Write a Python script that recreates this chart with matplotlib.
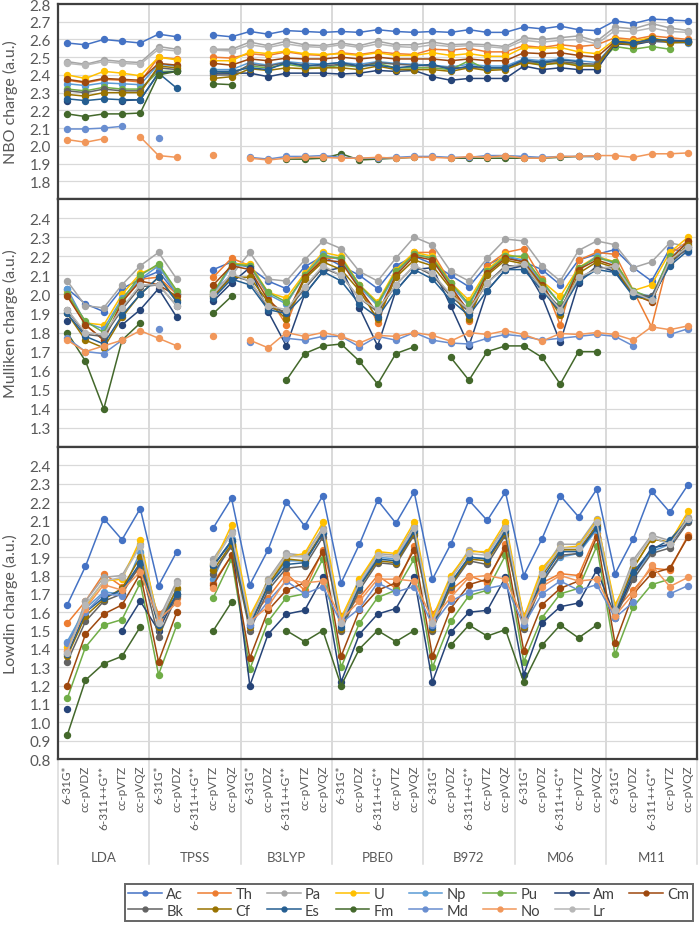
import matplotlib
matplotlib.use('Agg')
import matplotlib.pyplot as plt
import matplotlib.transforms as mtransforms
from matplotlib.lines import Line2D
import numpy as np

nan = np.nan

plt.rcParams['font.family'] = ['Lato', 'DejaVu Sans']

functionals = ['LDA', 'TPSS', 'B3LYP', 'PBE0', 'B972', 'M06', 'M11']
basis_sets = ['6-31G*', 'cc-pVDZ', '6-311++G**', 'cc-pVTZ', 'cc-pVQZ']
elements = ['Ac', 'Th', 'Pa', 'U', 'Np', 'Pu', 'Am', 'Cm',
            'Bk', 'Cf', 'Es', 'Fm', 'Md', 'No', 'Lr']
colors = ['#4472C4', '#ED7D31', '#A5A5A5', '#FFC000', '#5B9BD5', '#70AD47', '#264478', '#9E480E',
          '#636363', '#997300', '#255E91', '#43682B', '#698ED0', '#F1975A', '#B7B7B7']

# ---------------- NBO charge ----------------
nbo_ac = [2.58, 2.57, 2.60, 2.59, 2.58, 2.63, 2.615, nan, 2.625, 2.615, 2.645, 2.63, 2.65, 2.645, 2.64, 2.645, 2.64, 2.655, 2.645, 2.64, 2.645, 2.64, 2.655, 2.64, 2.64, 2.67, 2.66, 2.675, 2.655, 2.65, 2.705, 2.69, 2.715, 2.71, 2.705]
nbo_th = [2.37, 2.355, 2.375, 2.37, 2.36, 2.50, 2.49, nan, 2.50, 2.495, 2.52, 2.51, 2.53, 2.515, 2.51, 2.525, 2.515, 2.53, 2.52, 2.515, 2.545, 2.54, 2.55, 2.53, 2.53, 2.565, 2.555, 2.57, 2.56, 2.57, 2.61, 2.60, 2.62, 2.61, 2.60]
nbo_pa = [2.475, 2.46, 2.485, 2.475, 2.47, 2.56, 2.545, nan, 2.545, 2.545, 2.585, 2.565, 2.59, 2.57, 2.565, 2.58, 2.565, 2.59, 2.57, 2.57, 2.585, 2.57, 2.575, 2.57, 2.56, 2.61, 2.60, 2.61, 2.62, 2.59, 2.67, 2.66, 2.69, 2.665, 2.65]
nbo_u = [2.40, 2.38, 2.42, 2.41, 2.395, 2.50, 2.485, nan, 2.48, 2.48, 2.53, 2.52, 2.535, 2.52, 2.515, 2.52, 2.51, 2.525, 2.51, 2.51, 2.525, 2.51, 2.52, 2.505, 2.505, 2.555, 2.55, 2.555, 2.53, 2.52, 2.60, 2.59, 2.61, 2.59, 2.59]
nbo_np = [2.35, 2.34, 2.355, 2.35, 2.345, 2.46, 2.45, nan, 2.43, 2.43, 2.47, 2.455, 2.475, 2.465, 2.46, 2.47, 2.46, 2.475, 2.465, 2.46, 2.455, 2.445, 2.46, 2.45, 2.45, 2.49, 2.48, 2.49, 2.48, 2.47, 2.58, 2.575, 2.59, 2.585, 2.58]
nbo_pu = [2.32, 2.31, 2.33, 2.32, 2.32, 2.42, 2.42, nan, 2.42, 2.41, 2.45, 2.44, 2.46, 2.445, 2.44, 2.455, 2.445, 2.465, 2.44, 2.44, 2.44, 2.43, 2.48, 2.43, 2.44, 2.47, 2.46, 2.465, 2.46, 2.45, 2.56, 2.545, 2.56, 2.545, nan]
nbo_am = [2.25, nan, nan, 2.255, 2.26, 2.41, 2.42, nan, 2.41, 2.41, 2.41, 2.39, 2.41, 2.41, 2.41, 2.405, 2.41, 2.425, 2.42, 2.425, 2.39, 2.37, 2.38, 2.38, 2.38, 2.45, 2.43, 2.44, 2.43, 2.43, 2.575, 2.57, 2.59, 2.595, 2.59]
nbo_cm = [2.375, 2.36, 2.38, 2.375, 2.37, 2.465, 2.455, nan, 2.465, 2.455, 2.49, 2.48, 2.495, 2.49, 2.49, 2.50, 2.49, 2.50, 2.49, 2.49, 2.49, 2.48, 2.49, 2.48, 2.48, 2.525, 2.52, 2.525, 2.51, 2.50, 2.59, 2.58, 2.60, 2.59, 2.585]
nbo_bk = [2.31, 2.30, 2.32, 2.31, 2.31, 2.44, 2.43, nan, 2.40, 2.40, 2.46, 2.45, 2.47, 2.455, 2.45, 2.46, 2.45, 2.47, 2.46, 2.455, 2.45, 2.44, 2.44, 2.44, 2.44, 2.475, 2.47, 2.475, 2.465, 2.46, 2.585, 2.58, 2.59, 2.585, 2.585]
nbo_cf = [2.29, 2.28, 2.30, 2.30, 2.30, 2.45, 2.44, nan, 2.38, 2.39, 2.435, 2.425, 2.44, 2.435, 2.44, 2.44, 2.43, 2.45, 2.43, 2.43, 2.43, 2.42, 2.44, 2.425, 2.43, 2.47, 2.455, 2.47, 2.45, 2.45, 2.58, 2.57, 2.61, 2.58, 2.585]
nbo_es = [2.265, 2.255, 2.265, 2.26, 2.26, 2.41, 2.325, nan, 2.42, 2.42, 2.44, 2.43, 2.47, 2.45, 2.46, 2.47, 2.45, 2.455, 2.44, 2.45, 2.46, 2.43, 2.45, 2.44, 2.44, 2.485, 2.47, 2.485, 2.475, nan, 2.59, 2.58, 2.60, 2.595, 2.59]
nbo_fm = [2.18, 2.165, 2.18, 2.18, 2.185, 2.40, 2.42, nan, 2.35, 2.345, nan, nan, 1.925, 1.925, 1.93, 1.955, 1.92, 1.925, 1.93, 1.935, nan, 1.93, 1.93, 1.93, 1.93, 1.93, 1.93, 1.935, 1.94, 1.94, nan, nan, nan, nan, nan]
nbo_md = [2.095, 2.095, 2.10, 2.11, nan, 2.045, nan, nan, nan, nan, 1.935, 1.925, 1.94, 1.94, 1.945, 1.935, 1.93, 1.93, 1.935, 1.94, 1.94, 1.935, 1.935, 1.945, 1.945, 1.94, 1.935, 1.94, 1.94, 1.94, nan, nan, nan, nan, nan]
nbo_no = [2.035, 2.02, 2.04, nan, 2.05, 1.945, 1.935, nan, 1.95, nan, 1.93, 1.92, 1.93, 1.935, 1.935, 1.93, 1.93, 1.935, 1.93, 1.935, 1.935, 1.93, 1.94, 1.935, 1.945, 1.93, 1.93, 1.94, 1.94, 1.945, 1.945, 1.935, 1.955, 1.955, 1.96]
nbo_lr = [2.465, 2.455, 2.475, 2.465, 2.46, 2.545, 2.535, nan, 2.54, 2.535, 2.57, 2.555, 2.575, 2.56, 2.555, 2.57, 2.555, 2.575, 2.56, 2.555, 2.57, 2.56, 2.565, 2.56, 2.55, 2.595, 2.585, 2.595, 2.60, 2.575, 2.65, 2.645, 2.665, 2.645, 2.64]

# ---------------- Mulliken charge ----------------
mul_ac = [2.03, 1.95, 1.91, 2.03, 2.08, 2.12, 2.00, nan, 2.13, 2.17, 2.14, 2.07, 2.03, 2.145, 2.20, 2.15, 2.10, 2.03, 2.15, 2.20, 2.16, 2.10, 2.04, 2.155, 2.20, 2.17, 2.13, 2.05, 2.18, 2.21, 2.235, 2.14, 2.07, 2.24, 2.22]
mul_th = [2.00, 1.84, 1.76, 1.96, 2.08, 2.09, 2.00, nan, 2.09, 2.19, 2.15, 1.99, 1.84, 2.09, 2.19, 2.19, 2.05, 1.85, 2.11, 2.22, 2.22, 2.06, 1.86, 2.15, 2.22, 2.24, 2.08, 1.84, 2.18, 2.22, 2.21, 2.02, 1.83, 2.21, 2.28]
mul_pa = [2.07, 1.94, 1.93, 2.05, 2.15, 2.22, 2.08, nan, 2.02, 2.10, 2.22, 2.08, 2.07, 2.18, 2.28, 2.24, 2.12, 2.07, 2.19, 2.30, 2.26, 2.12, 2.07, 2.19, 2.29, 2.28, 2.15, 2.07, 2.23, 2.28, 2.26, 2.14, 2.17, 2.27, 2.25]
mul_u = [2.02, 1.85, 1.84, 2.00, 2.11, 2.15, 2.01, nan, 2.00, 2.16, 2.16, 2.01, 1.98, 2.11, 2.22, 2.20, 2.05, 1.96, 2.13, 2.22, 2.20, 2.06, 1.97, 2.13, 2.21, 2.19, 2.07, 1.99, 2.14, 2.20, 2.17, 2.02, 2.05, 2.22, 2.30]
mul_np = [2.03, 1.85, 1.82, 1.98, 2.08, 2.15, 2.00, nan, 2.00, 2.15, 2.15, 2.00, 1.95, 2.10, 2.21, 2.18, 2.04, 1.94, 2.11, 2.21, 2.19, 2.05, 1.94, 2.12, 2.20, 2.18, 2.06, 1.95, 2.13, 2.20, 2.16, 2.01, 1.99, 2.19, 2.27]
mul_pu = [2.00, 1.86, 1.80, 1.97, 2.10, 2.16, 2.02, nan, 2.01, 2.16, 2.15, 2.01, 1.96, 2.10, 2.20, 2.19, 2.05, 1.95, 2.12, 2.21, 2.19, 2.06, 1.95, 2.12, 2.20, 2.20, 2.07, 1.95, 2.14, 2.19, 2.17, 2.02, 1.98, 2.20, nan]
mul_am = [1.86, nan, nan, 1.84, 1.92, 2.03, 1.88, nan, 1.965, 2.06, 2.14, 1.91, 1.73, 2.00, 2.12, 2.14, 1.93, 1.73, 2.02, 2.13, 2.14, 1.94, 1.73, 2.02, 2.13, 2.15, 1.99, 1.75, 2.06, 2.15, 2.12, 2.00, 1.98, 2.16, 2.25]
mul_cm = [1.99, 1.84, 1.76, 1.96, 2.07, 2.05, 1.99, nan, 2.05, 2.15, 2.13, 1.97, 1.89, 2.09, 2.18, 2.17, 2.03, 1.90, 2.10, 2.20, 2.18, 2.04, 1.91, 2.11, 2.19, 2.17, 2.05, 1.91, 2.13, 2.18, 2.15, 2.00, 1.96, 2.18, 2.28]
mul_bk = [1.92, 1.79, 1.78, 1.92, 2.04, 2.05, 1.94, nan, 1.99, 2.10, 2.07, 1.93, 1.91, 2.03, 2.14, 2.10, 1.98, 1.91, 2.05, 2.15, 2.10, 1.99, 1.91, 2.06, 2.15, 2.15, 2.03, 1.93, 2.08, 2.14, 2.14, 2.00, 1.99, 2.17, 2.24]
mul_cf = [1.90, 1.76, 1.72, 1.88, 2.00, 2.09, 1.97, nan, 1.99, 2.09, 2.09, 1.96, 1.87, 2.08, 2.17, 2.13, 2.02, 1.87, 2.09, 2.18, 2.15, 2.03, 1.87, 2.10, 2.18, 2.16, 2.04, 1.89, 2.11, 2.17, 2.14, 1.99, 1.97, 2.17, 2.26]
mul_es = [1.90, 1.78, 1.74, 1.89, 2.00, 2.09, 1.96, nan, 1.98, 2.08, 2.05, 1.92, 1.90, 2.00, 2.12, 2.07, 1.95, 1.88, 2.02, 2.13, 2.08, 1.97, 1.89, 2.02, 2.13, 2.13, 2.02, 1.91, 2.07, 2.13, 2.115, 1.99, 1.98, 2.15, 2.23]
mul_fm = [1.80, 1.65, 1.40, 1.76, 1.85, nan, nan, nan, 1.90, 1.99, nan, nan, 1.55, 1.69, 1.73, 1.74, 1.65, 1.53, 1.69, 1.725, nan, 1.67, 1.55, 1.70, 1.73, 1.73, 1.67, 1.53, 1.70, 1.70, nan, nan, nan, nan, nan]
mul_md = [1.77, 1.70, 1.69, 1.76, nan, 1.82, nan, nan, nan, nan, 1.75, nan, 1.77, 1.76, 1.78, 1.78, 1.725, 1.78, 1.76, 1.80, 1.76, 1.745, 1.74, 1.77, 1.79, 1.78, 1.76, 1.77, 1.78, 1.79, 1.78, 1.73, nan, 1.79, 1.82]
mul_no = [1.76, 1.70, 1.73, 1.76, 1.81, 1.77, 1.73, nan, 1.78, nan, 1.76, 1.72, 1.80, 1.78, 1.80, 1.78, 1.745, 1.785, 1.78, 1.80, 1.785, 1.755, 1.80, 1.79, 1.81, 1.79, 1.755, 1.795, 1.79, 1.80, 1.79, 1.76, 1.83, 1.815, 1.835]
mul_lr = [1.92, 1.80, 1.79, 1.93, 2.05, 2.05, 1.94, nan, 2.00, 2.11, 2.07, 1.94, 1.92, 2.04, 2.15, 2.10, 1.98, 1.92, 2.05, 2.15, 2.11, 2.00, 1.92, 2.06, 2.14, 2.16, 2.03, 1.92, 2.09, 2.13, 2.15, 2.01, 1.97, 2.18, 2.25]

# ---------------- Lowdin charge ----------------
low_ac = [1.64, 1.85, 2.11, 1.995, 2.165, 1.745, 1.93, nan, 2.06, 2.22, 1.75, 1.94, 2.20, 2.07, 2.235, 1.76, 1.97, 2.21, 2.085, 2.255, 1.78, 1.97, 2.21, 2.10, 2.255, 1.80, 2.00, 2.235, 2.12, 2.27, 1.81, 2.00, 2.26, 2.145, 2.295]
low_th = [1.54, 1.66, 1.81, 1.74, 1.84, 1.59, 1.68, nan, 1.76, 1.91, 1.57, 1.68, 1.81, 1.72, 1.94, 1.58, 1.68, 1.80, 1.73, 1.96, 1.59, 1.72, 1.80, 1.76, 1.97, 1.58, 1.76, 1.81, 1.80, 2.03, 1.61, 1.72, 1.84, 1.83, 2.02]
low_pa = [1.39, 1.66, 1.79, 1.80, 1.97, 1.56, 1.77, nan, 1.89, 2.04, 1.56, 1.78, 1.92, 1.91, 2.06, 1.55, 1.77, 1.92, 1.91, 2.07, 1.55, 1.79, 1.94, 1.92, 2.07, 1.56, 1.82, 1.97, 1.97, 2.11, 1.62, 1.885, 2.02, 1.99, 2.12]
low_u = [1.41, 1.63, 1.77, 1.78, 1.995, 1.55, 1.72, nan, 1.86, 2.075, 1.58, 1.77, 1.90, 1.92, 2.09, 1.57, 1.78, 1.93, 1.92, 2.09, 1.57, 1.80, 1.93, 1.93, 2.09, 1.57, 1.84, 1.95, 1.96, 2.10, 1.64, 1.84, 2.00, 1.98, 2.15]
low_np = [1.44, 1.62, 1.71, 1.70, 1.93, 1.55, 1.72, nan, 1.78, 2.00, 1.54, 1.74, 1.88, 1.88, 2.03, 1.53, 1.75, 1.90, 1.89, 2.05, 1.53, 1.76, 1.90, 1.89, 2.05, 1.52, 1.77, 1.90, 1.92, 2.05, 1.58, 1.80, 1.93, 1.97, 2.10]
low_pu = [1.13, 1.41, 1.53, 1.56, 1.76, 1.26, 1.53, nan, 1.68, 1.89, 1.29, 1.55, 1.68, 1.70, 1.89, 1.30, 1.54, 1.68, 1.72, 1.89, 1.30, 1.55, 1.69, 1.72, 1.91, 1.33, 1.57, 1.70, 1.73, 1.96, 1.37, 1.63, 1.75, 1.78, nan]
low_am = [1.07, nan, nan, 1.50, 1.66, 1.50, 1.70, nan, 1.85, 1.99, 1.20, 1.48, 1.59, 1.61, 1.79, 1.22, 1.48, 1.59, 1.62, 1.79, 1.22, 1.49, 1.60, 1.61, 1.79, 1.26, 1.54, 1.63, 1.65, 1.83, 1.58, 1.80, 1.95, 1.97, 2.10]
low_cm = [1.20, 1.48, 1.59, 1.64, 1.81, 1.33, 1.60, nan, 1.75, 1.91, 1.35, 1.61, 1.72, 1.76, 1.93, 1.36, 1.61, 1.72, 1.76, 1.94, 1.36, 1.62, 1.75, 1.78, 1.95, 1.39, 1.64, 1.73, 1.77, 2.01, 1.43, 1.70, 1.81, 1.84, 2.01]
low_bk = [1.33, 1.55, 1.66, 1.70, 1.86, 1.465, 1.69, nan, 1.81, 1.96, 1.50, 1.72, 1.84, 1.85, 2.01, 1.50, 1.72, 1.87, 1.86, 2.02, 1.50, 1.74, 1.88, 1.86, 2.02, 1.51, 1.76, 1.91, 1.92, 2.08, 1.57, 1.78, 1.92, 1.95, 2.09]
low_cf = [1.36, 1.58, 1.67, 1.73, 1.90, 1.52, 1.73, nan, 1.83, 1.97, 1.52, 1.75, 1.89, 1.88, 2.04, 1.51, 1.74, 1.88, 1.87, 2.03, 1.51, 1.75, 1.89, 1.88, 2.03, 1.52, 1.80, 1.94, 1.94, 2.07, 1.60, 1.84, 2.00, 1.98, 2.11]
low_es = [1.37, 1.60, 1.68, 1.72, 1.87, 1.53, 1.70, nan, 1.855, 1.99, 1.53, 1.74, 1.86, 1.87, 2.03, 1.52, 1.74, 1.89, 1.88, 2.04, 1.52, 1.76, 1.90, 1.89, 2.04, 1.53, 1.78, 1.93, 1.93, 2.06, 1.59, 1.82, 1.94, 1.995, 2.10]
low_fm = [0.93, 1.23, 1.32, 1.36, 1.52, nan, nan, nan, 1.50, 1.655, nan, nan, 1.50, 1.44, 1.50, 1.20, 1.40, 1.50, 1.44, 1.50, nan, 1.42, 1.53, 1.47, 1.505, 1.22, 1.42, 1.53, 1.46, 1.53, nan, nan, nan, nan, nan]
low_md = [1.43, 1.60, 1.70, 1.69, nan, 1.55, nan, nan, nan, nan, 1.53, 1.66, 1.77, 1.70, 1.74, 1.54, 1.62, 1.76, 1.71, 1.74, 1.53, 1.66, 1.71, 1.73, 1.75, 1.53, 1.70, 1.77, 1.72, 1.75, 1.57, 1.655, nan, 1.70, 1.745]
low_no = [1.39, 1.62, 1.75, 1.72, 1.82, 1.56, 1.65, nan, 1.73, nan, 1.55, 1.63, 1.78, 1.76, 1.77, 1.56, 1.66, 1.78, 1.78, 1.77, 1.56, 1.68, 1.79, 1.80, 1.78, 1.56, 1.74, 1.80, 1.77, 1.78, 1.58, 1.70, 1.855, 1.74, 1.79]
low_lr = [1.38, 1.64, 1.77, 1.79, 1.96, 1.54, 1.76, nan, 1.87, 2.03, 1.55, 1.77, 1.91, 1.90, 2.05, 1.54, 1.76, 1.91, 1.90, 2.06, 1.54, 1.78, 1.92, 1.91, 2.06, 1.55, 1.81, 1.95, 1.95, 2.09, 1.61, 1.87, 2.01, 1.97, 2.11]

nbo = [nbo_ac, nbo_th, nbo_pa, nbo_u, nbo_np, nbo_pu, nbo_am, nbo_cm,
       nbo_bk, nbo_cf, nbo_es, nbo_fm, nbo_md, nbo_no, nbo_lr]
mulliken = [mul_ac, mul_th, mul_pa, mul_u, mul_np, mul_pu, mul_am, mul_cm,
            mul_bk, mul_cf, mul_es, mul_fm, mul_md, mul_no, mul_lr]
lowdin = [low_ac, low_th, low_pa, low_u, low_np, low_pu, low_am, low_cm,
          low_bk, low_cf, low_es, low_fm, low_md, low_no, low_lr]

GRID = '#D9D9D9'
TEXT = '#595959'
FRAME = '#3F3F3F'


def DrawPanel(ax, series, ylim, yticks, ylabel):
    x = np.arange(len(functionals) * len(basis_sets))
    for values, color in zip(series, colors):
        ax.plot(x, values, color=color, lw=1.1, marker='o', ms=4.3, zorder=3)

    ax.set_xlim(-0.5, len(x) - 0.5)
    ax.set_ylim(*ylim)
    ax.set_yticks(yticks)
    ax.set_yticklabels(['%.1f' % t for t in yticks], fontsize=11, color=TEXT)
    ax.grid(axis='y', color=GRID, lw=0.9, zorder=0)
    for b in range(1, len(functionals)):
        ax.axvline(b * len(basis_sets) - 0.5, color='#D0D0D0', lw=1.1, zorder=0)
    ax.tick_params(length=0, pad=5)
    for sp in ax.spines.values():
        sp.set_color(FRAME)
        sp.set_linewidth(1.6)
    ax.set_ylabel(ylabel, fontsize=11.5, color=TEXT)
    ax.yaxis.set_label_coords(-0.062, 0.5)


def main():
    fig = plt.figure(figsize=(7, 9.28), dpi=100)
    ax1 = fig.add_axes([0.083, 0.7845, 0.913, 0.2101])
    ax2 = fig.add_axes([0.083, 0.5172, 0.913, 0.2673])
    ax3 = fig.add_axes([0.083, 0.181, 0.913, 0.3362])

    DrawPanel(ax1, nbo, (1.7, 2.8), np.round(np.arange(1.8, 2.81, 0.1), 1), 'NBO charge (a.u.)')
    DrawPanel(ax2, mulliken, (1.2, 2.5), np.round(np.arange(1.3, 2.41, 0.1), 1), 'Mulliken charge (a.u.)')
    DrawPanel(ax3, lowdin, (0.8, 2.5), np.round(np.arange(0.8, 2.41, 0.1), 1), 'Lowdin charge (a.u.)')

    for ax in (ax1, ax2):
        ax.set_xticks([])

    n = len(functionals) * len(basis_sets)
    ax3.set_xticks(np.arange(n))
    ax3.set_xticklabels(basis_sets * len(functionals), rotation=90, fontsize=8.5, color=TEXT)
    ax3.tick_params(axis='x', pad=4)

    # group axis below the tick labels
    trans = mtransforms.blended_transform_factory(ax3.transData, ax3.transAxes)
    for b in range(len(functionals) + 1):
        ax3.plot([b * 5 - 0.5] * 2, [0, -0.335], transform=trans, color=GRID, lw=1.1, clip_on=False)
    for i, name in enumerate(functionals):
        ax3.text(i * 5 + 2, -0.3135, name, transform=trans, ha='center', va='center',
                 fontsize=9.5, color=TEXT)

    # legend is filled column by column, so interleave the two rows
    handles = [Line2D([], [], color=c, lw=1.1, marker='o', ms=3.5) for c in colors]
    order = []
    for j in range(8):
        order.append(j)
        if j + 8 < len(elements):
            order.append(j + 8)
    leg = fig.legend([handles[i] for i in order], [elements[i] for i in order],
                     ncol=8, loc='center', bbox_to_anchor=(0.584, 0.0265),
                     fontsize=10.5, frameon=True, fancybox=False, edgecolor=FRAME,
                     handlelength=2.3, handletextpad=0.3, columnspacing=1.0,
                     borderpad=0.25, labelspacing=0.15)
    leg.get_frame().set_linewidth(1.4)
    for t in leg.get_texts():
        t.set_color('#404040')

    fig.savefig('out.png', dpi=100)
    plt.close(fig)


if __name__ == '__main__':
    main()
